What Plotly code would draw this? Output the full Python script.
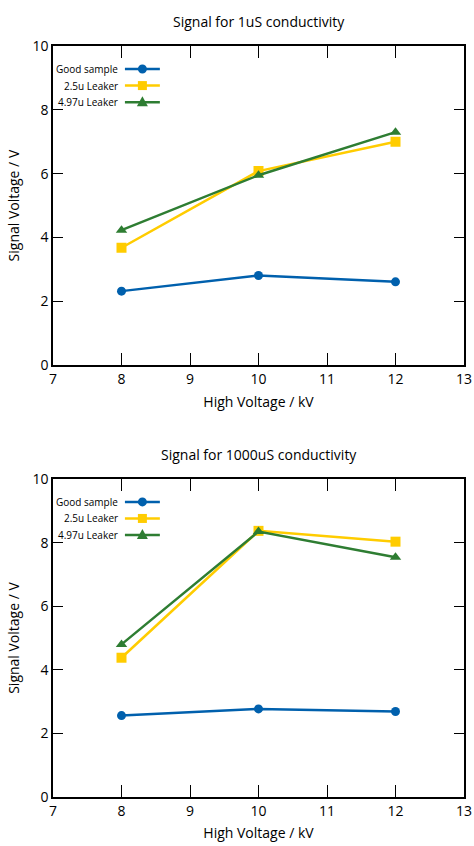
import plotly.graph_objects as go
from plotly.subplots import make_subplots

high_voltage = [8, 10, 12]
series_names = ["Good sample", "2.5u Leaker", "4.97u Leaker"]
sig_1uS_good = [2.32, 2.81, 2.61]
sig_1uS_25 = [3.68, 6.08, 7.00]
sig_1uS_497 = [4.23, 5.95, 7.30]
sig_1000uS_good = [2.56, 2.77, 2.69]
sig_1000uS_25 = [4.38, 8.37, 8.03]
sig_1000uS_497 = [4.80, 8.35, 7.54]
titles = ["Signal for 1uS conductivity", "Signal for 1000uS conductivity"]
x_ticks = [7, 8, 9, 10, 11, 12, 13]
y_ticks = [0, 2, 4, 6, 8, 10]

colors = ["#0060ad", "#ffcc00", "#2e7d32"]
symbols = ["circle", "square", "triangle-up"]
FONT = "Open Sans"

fig = make_subplots(rows=2, cols=1, vertical_spacing=0.15)
fig.update_layout(
    width=474, height=846,
    margin=dict(l=53, r=10, t=46, b=49, autoexpand=False),
    paper_bgcolor="white", plot_bgcolor="white",
    showlegend=False,
    font=dict(family=FONT, size=14, color="black"),
)
fig.update_yaxes(domain=[0.575, 1.0], row=1, col=1)
fig.update_yaxes(domain=[0.0, 0.4234], row=2, col=1)

data = [
    [sig_1uS_good, sig_1uS_25, sig_1uS_497],
    [sig_1000uS_good, sig_1000uS_25, sig_1000uS_497],
]
# legend sample marker outlines in pixels (y up), relative to the sample centre
marker_paths = [
    None,
    "M-4.5,-4.5 L4.5,-4.5 L4.5,4.5 L-4.5,4.5 Z",
    "M-5.5,-4 L5.5,-4 L0,6 Z",
]
for r in range(2):
    for i, ys in enumerate(data[r]):
        fig.add_trace(go.Scatter(
            x=high_voltage, y=ys, mode="lines+markers", name=series_names[i],
            line=dict(color=colors[i], width=2.5),
            marker=dict(color=colors[i], symbol=symbols[i], size=10 if i != 0 else 9),
        ), row=r + 1, col=1)

    xa = "x" if r == 0 else "x2"
    ya = "y" if r == 0 else "y2"
    fig.add_annotation(text=titles[r], xref=xa + " domain", yref=ya + " domain",
                       x=0.5, y=1, yanchor="bottom", yshift=13, showarrow=False,
                       font=dict(size=14))
    rows_y = [0.928, 0.876, 0.824]
    for i in range(3):
        fig.add_annotation(text=series_names[i], xref=xa + " domain", yref=ya + " domain",
                           x=0.163, y=rows_y[i], xanchor="right", yanchor="middle",
                           showarrow=False, font=dict(size=10))
        fig.add_shape(type="line", xref=xa + " domain", yref=ya + " domain",
                      x0=0.175, x1=0.260, y0=rows_y[i], y1=rows_y[i],
                      line=dict(color=colors[i], width=2.5))
        if i == 0:
            fig.add_shape(type="circle", xref=xa + " domain", yref=ya + " domain",
                          xsizemode="pixel", ysizemode="pixel",
                          xanchor=0.2175, yanchor=rows_y[i],
                          x0=-4.5, x1=4.5, y0=-4.5, y1=4.5,
                          fillcolor=colors[i], line=dict(width=0))
        else:
            fig.add_shape(type="path", xref=xa + " domain", yref=ya + " domain",
                          xsizemode="pixel", ysizemode="pixel",
                          xanchor=0.2175, yanchor=rows_y[i],
                          path=marker_paths[i],
                          fillcolor=colors[i], line=dict(width=0))

fig.update_xaxes(
    range=[7, 13], tickvals=x_ticks, ticks="inside", ticklen=12, tickwidth=1.3,
    tickcolor="black", showline=True, linecolor="black", linewidth=1.5, mirror="allticks",
    showgrid=False, zeroline=False, automargin=False,
    title=dict(text="High Voltage / kV", standoff=10, font=dict(size=14)),
    tickfont=dict(size=14),
)
fig.update_yaxes(
    range=[0, 10], tickvals=y_ticks, ticks="inside", ticklen=10, tickwidth=1.3,
    tickcolor="black", showline=True, linecolor="black", linewidth=1.5, mirror="allticks",
    showgrid=False, zeroline=False, automargin=False,
    title=dict(text="Signal Voltage / V", standoff=10, font=dict(size=14)),
    tickfont=dict(size=14),
)

fig.write_html("out.html", config={"displayModeBar": False},
               post_script="document.body.style.margin='0';document.body.style.overflow='hidden';")
